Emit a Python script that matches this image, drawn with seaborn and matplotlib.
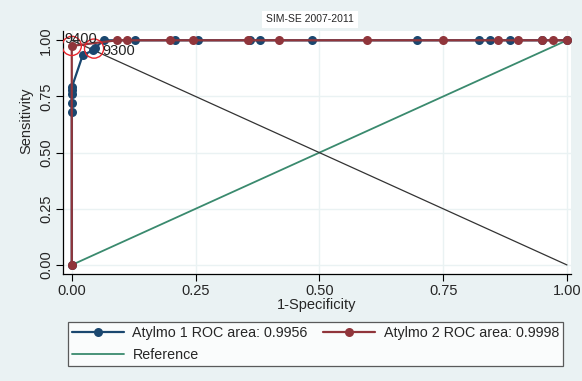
import matplotlib
matplotlib.use("Agg")
import matplotlib.pyplot as plt
import numpy as np
import pandas as pd
import seaborn as sns

# ROC points
fpr_1 = [0.0, 0.0, 0.0, 0.0, 0.0, 0.0, 0.022, 0.042, 0.046, 0.065, 0.127, 0.208, 0.255,
         0.36, 0.38, 0.485, 0.697, 0.822, 0.844, 0.885, 0.949, 1.0]
tpr_1 = [0.0, 0.68, 0.72, 0.76, 0.78, 0.79, 0.933, 0.955, 0.965, 1.0, 1.0, 1.0, 1.0,
         1.0, 1.0, 1.0, 1.0, 1.0, 1.0, 1.0, 1.0, 1.0]
fpr_2 = [0.0, 0.0, 0.091, 0.111, 0.198, 0.244, 0.356, 0.418, 0.596, 0.749, 0.861, 0.901,
         0.95, 0.972, 1.0]
tpr_2 = [0.0, 0.975, 1.0, 1.0, 1.0, 1.0, 1.0, 1.0, 1.0, 1.0, 1.0, 1.0, 1.0, 1.0, 1.0]
ref_x = [0.0, 1.0]
ref_y = [0.0, 1.0]
diag_x = [0.0, 1.0]
diag_y = [1.0, 0.0]

labels = ["Atylmo 1 ROC area: 0.9956", "Atylmo 2 ROC area: 0.9998", "Reference"]
cut_labels = ["9400", "9300"]
cut_x = [0.0, 0.045]
cut_y = [0.975, 0.963]
ticks = [0.0, 0.25, 0.5, 0.75, 1.0]

navy = "#1a476f"
maroon = "#90353b"
green = "#3a8a6e"
bg = "#eaf2f3"

sns.set_theme(style="white")
plt.rcParams["font.family"] = ["Liberation Sans", "DejaVu Sans"]

fig = plt.figure(figsize=(5.82, 3.81), dpi=100, facecolor=bg)
ax = fig.add_axes([0.108, 0.281, 0.873, 0.638])
ax.set_facecolor("white")

for t in ticks:
    ax.axvline(t, color=bg, lw=1, zorder=0)
    ax.axhline(t, color=bg, lw=1, zorder=0)

df1 = pd.DataFrame({"x": fpr_1, "y": tpr_1})
df2 = pd.DataFrame({"x": fpr_2, "y": tpr_2})
sns.lineplot(data=df1, x="x", y="y", sort=False, estimator=None, ax=ax, color=navy,
             marker="o", markersize=6.5, markeredgewidth=0, lw=1.6, label=labels[0], zorder=3)
sns.lineplot(data=df2, x="x", y="y", sort=False, estimator=None, ax=ax, color=maroon,
             marker="o", markersize=6.5, markeredgewidth=0, lw=1.6, label=labels[1], zorder=4)
sns.lineplot(x=ref_x, y=ref_y, ax=ax, color=green, lw=1.3, label=labels[2], zorder=2)
ax.plot(diag_x, diag_y, color="#333333", lw=0.9, zorder=2)

# cutoff markers
ax.scatter(cut_x, cut_y, s=190, facecolors="none", edgecolors="#e8262c", lw=1, zorder=5)
ax.text(-0.014, 0.99, cut_labels[0], fontsize=10.5, color="#222222", zorder=6)
ax.text(0.061, 0.935, cut_labels[1], fontsize=10.5, color="#222222", zorder=6)

ax.set_xlim(-0.018, 1.008)
ax.set_ylim(-0.04, 1.042)
ax.set_xticks(ticks)
ax.set_yticks(ticks)
ax.set_xticklabels(["0.00", "0.25", "0.50", "0.75", "1.00"])
ax.set_yticklabels(["0.00", "0.25", "0.50", "0.75", "1.00"])
ax.tick_params(axis="both", direction="out", length=5, width=0.8, color="black",
               labelsize=10.5, pad=2, left=True, bottom=True)
plt.setp(ax.get_yticklabels(), rotation=90, va="center")
for s in ["top", "right"]:
    ax.spines[s].set_visible(False)
for s in ["left", "bottom"]:
    ax.spines[s].set_color("black")
    ax.spines[s].set_linewidth(0.9)

ax.set_xlabel("1-Specificity", fontsize=10.5, labelpad=0)
ax.set_ylabel("Sensitivity", fontsize=10.5)
ax.yaxis.set_label_coords(-0.058, 0.63)

ax.legend_.remove()
h, l = ax.get_legend_handles_labels()
order = [0, 2, 1]
leg = fig.legend([h[i] for i in order], [l[i] for i in order], loc="upper left",
                 bbox_to_anchor=(68 / 582, 1 - 322 / 381),
                 ncol=2, fontsize=10.3, frameon=True, fancybox=False, edgecolor="#333333",
                 handlelength=3.6, handletextpad=0.6, columnspacing=1.1,
                 borderpad=0.3, labelspacing=0.55, borderaxespad=0)
leg.get_frame().set_linewidth(0.9)

fig.text(310 / 582, 1 - 19.5 / 381, "SIM-SE 2007-2011", fontsize=7.5, ha="center", va="center",
         bbox=dict(boxstyle="square,pad=0.35", fc="white", ec="none"))

fig.savefig("out.png", dpi=100, facecolor=bg)
